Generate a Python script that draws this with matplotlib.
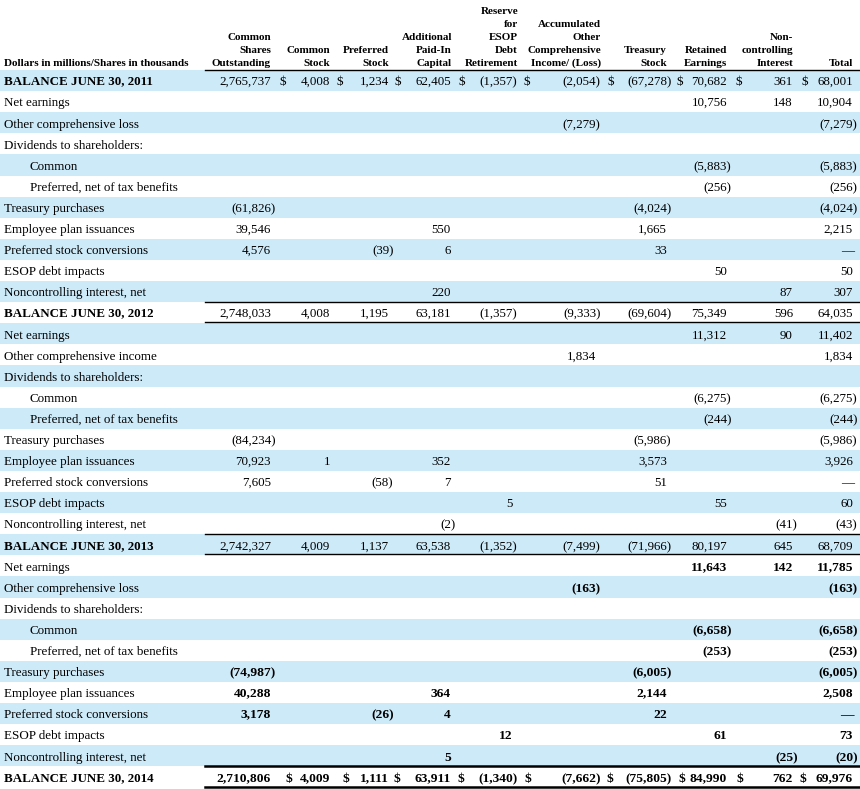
#!/usr/bin/env python3
"""
Statement of shareholders' equity, redrawn as a striped table with matplotlib.
"""

import matplotlib
matplotlib.use("Agg")
import matplotlib.pyplot as plt
from matplotlib.font_manager import FontProperties, findfont, get_font
from matplotlib.backends.backend_agg import get_hinting_flag

plt.rcParams["font.family"] = ["Liberation Serif", "DejaVu Serif"]

# ---- data -----------------------------------------------------------------
col_headers = [
    ["Common", "Shares", "Outstanding"],
    ["Common", "Stock"],
    ["Preferred", "Stock"],
    ["Additional", "Paid-In", "Capital"],
    ["Reserve", "for", "ESOP", "Debt", "Retirement"],
    ["Accumulated", "Other", "Comprehensive", "Income/ (Loss)"],
    ["Treasury", "Stock"],
    ["Retained", "Earnings"],
    ["Non-", "controlling", "Interest"],
    ["Total"],
]

row_labels = [
    "BALANCE JUNE 30, 2011",
    "Net earnings", "Other comprehensive loss", "Dividends to shareholders:",
    "Common", "Preferred, net of tax benefits", "Treasury purchases",
    "Employee plan issuances", "Preferred stock conversions", "ESOP debt impacts",
    "Noncontrolling interest, net",
    "BALANCE JUNE 30, 2012",
    "Net earnings", "Other comprehensive income", "Dividends to shareholders:",
    "Common", "Preferred, net of tax benefits", "Treasury purchases",
    "Employee plan issuances", "Preferred stock conversions", "ESOP debt impacts",
    "Noncontrolling interest, net",
    "BALANCE JUNE 30, 2013",
    "Net earnings", "Other comprehensive loss", "Dividends to shareholders:",
    "Common", "Preferred, net of tax benefits", "Treasury purchases",
    "Employee plan issuances", "Preferred stock conversions", "ESOP debt impacts",
    "Noncontrolling interest, net",
    "BALANCE JUNE 30, 2014",
]
indented = {"Common", "Preferred, net of tax benefits"}

N = None
balance_2011 = [2765737, 4008, 1234, 62405, -1357, -2054, -67278, 70682, 361, 68001]
changes_2012 = [
    [N, N, N, N, N, N, N, 10756, 148, 10904],
    [N, N, N, N, N, -7279, N, N, N, -7279],
    [N, N, N, N, N, N, N, N, N, N],
    [N, N, N, N, N, N, N, -5883, N, -5883],
    [N, N, N, N, N, N, N, -256, N, -256],
    [-61826, N, N, N, N, N, -4024, N, N, -4024],
    [39546, N, N, 550, N, N, 1665, N, N, 2215],
    [4576, N, -39, 6, N, N, 33, N, N, 0],
    [N, N, N, N, N, N, N, 50, N, 50],
    [N, N, N, 220, N, N, N, N, 87, 307],
]
balance_2012 = [2748033, 4008, 1195, 63181, -1357, -9333, -69604, 75349, 596, 64035]
changes_2013 = [
    [N, N, N, N, N, N, N, 11312, 90, 11402],
    [N, N, N, N, N, 1834, N, N, N, 1834],
    [N, N, N, N, N, N, N, N, N, N],
    [N, N, N, N, N, N, N, -6275, N, -6275],
    [N, N, N, N, N, N, N, -244, N, -244],
    [-84234, N, N, N, N, N, -5986, N, N, -5986],
    [70923, 1, N, 352, N, N, 3573, N, N, 3926],
    [7605, N, -58, 7, N, N, 51, N, N, 0],
    [N, N, N, N, 5, N, N, 55, N, 60],
    [N, N, N, -2, N, N, N, N, -41, -43],
]
balance_2013 = [2742327, 4009, 1137, 63538, -1352, -7499, -71966, 80197, 645, 68709]
changes_2014 = [
    [N, N, N, N, N, N, N, 11643, 142, 11785],
    [N, N, N, N, N, -163, N, N, N, -163],
    [N, N, N, N, N, N, N, N, N, N],
    [N, N, N, N, N, N, N, -6658, N, -6658],
    [N, N, N, N, N, N, N, -253, N, -253],
    [-74987, N, N, N, N, N, -6005, N, N, -6005],
    [40288, N, N, 364, N, N, 2144, N, N, 2508],
    [3178, N, -26, 4, N, N, 22, N, N, 0],
    [N, N, N, N, 12, N, N, 61, N, 73],
    [N, N, N, 5, N, N, N, N, -25, -20],
]
balance_2014 = [2710806, 4009, 1111, 63911, -1340, -7662, -75805, 84990, 762, 69976]

rows = ([balance_2011] + changes_2012 + [balance_2012] + changes_2013
        + [balance_2013] + changes_2014 + [balance_2014])

# ---- layout ---------------------------------------------------------------
W, H = 860, 789
col_right = [271, 330, 389, 451, 513, 596, 667, 727, 793, 853]
dollar_x = [None, 283, 340, 398, 462, 527, 611, 680, 739, 805]
dollar_x_bold = [None, 289, 346, 397, 461, 528, 610, 682, 740, 803]
header_right = [271, 330, 389, 452, 518, 601, 667, 727, 793, 853]
TOP, ROW_H = 70, 21.1
BLUE = "#cdeaf9"
FS = 9.4
FS_BOLD = 9.7
HFS = 8.0


def fmt(v):
    if v is None:
        return ""
    if v == 0:
        return "\u2014"
    if v < 0:
        return f"({-v:,})"
    return f"{v:,}"


def snap_shift(s, yb, size, weight):
    """Agg rounds the text bitmap by its descent; find the y that keeps the
    glyph baseline exactly on row yb."""
    prop = FontProperties(family="Liberation Serif", weight=weight, size=size)
    font = get_font(findfont(prop))
    font.clear()
    font.set_size(size, 100)
    font.set_text(s, 0, flags=get_hinting_flag())
    d26 = font.get_descent()
    _, h26 = font.get_width_height()
    ymax = (h26 - d26) / 64
    img_h = h26 // 64 + 2
    for sft in (0, -1, 1, -2, 2):
        y = yb + sft
        base = round(y + d26 / 64) + 1 - img_h + int(ymax) + 1
        if base == yb:
            return sft
    return 0


def put(ax, x, yb, s, size, weight="normal", ha="right"):
    sft = snap_shift(s, yb, size, weight)
    ax.text(x, yb + sft, s, fontsize=size, fontweight=weight, ha=ha, va="baseline")


fig = plt.figure(figsize=(W / 100, H / 100), dpi=100)
ax = fig.add_axes([0, 0, 1, 1])
ax.set_xlim(0, W)
ax.set_ylim(H, 0)
ax.axis("off")

# stripes
for i in range(len(rows)):
    if i % 2 == 0:
        ax.axhspan(TOP + i * ROW_H, TOP + (i + 1) * ROW_H, color=BLUE, lw=0, zorder=0)

# header
put(ax, 4, 66, "Dollars in millions/Shares in thousands", HFS, "bold", "left")
for j, lines in enumerate(col_headers):
    for k, line in enumerate(reversed(lines)):
        put(ax, header_right[j], 66 - 13 * k, line, HFS, "bold", "right")
ax.plot([205, W], [TOP, TOP], color="black", lw=1.0)

# body
for i, (label, vals) in enumerate(zip(row_labels, rows)):
    yb = round(TOP + (i + 0.5) * ROW_H + 4.8)
    is_balance = label.startswith("BALANCE")
    bold = i > 22
    num_w, num_fs = ("bold", FS_BOLD) if bold else ("normal", FS)
    x_lab = 30 if label in indented else 4
    put(ax, x_lab, yb, label, FS, "bold" if is_balance else "normal", "left")
    for j, v in enumerate(vals):
        s = fmt(v)
        if not s:
            continue
        x = col_right[j] + (4.5 if s.endswith(")") else 0)
        if s == "\u2014":
            x = col_right[j] + 1
        put(ax, x, yb, s, num_fs, num_w, "right")
    if i in (0, len(rows) - 1):
        dxs = dollar_x_bold if bold else dollar_x
        for dx in dxs:
            if dx is not None:
                put(ax, dx, yb, "$", num_fs, num_w, "center")

# rules around balance rows
for i in (11, 22):
    ax.plot([205, W], [TOP + i * ROW_H, TOP + i * ROW_H], color="black", lw=1.0)
    ax.plot([205, W], [TOP + (i + 1) * ROW_H - 1.5] * 2, color="black", lw=1.0)
y14 = TOP + 33 * ROW_H
ax.plot([205, W], [y14, y14], color="black", lw=1.8)
ax.plot([205, W], [H - 2, H - 2], color="black", lw=1.8)

fig.savefig("out.png", dpi=100)
plt.close(fig)
